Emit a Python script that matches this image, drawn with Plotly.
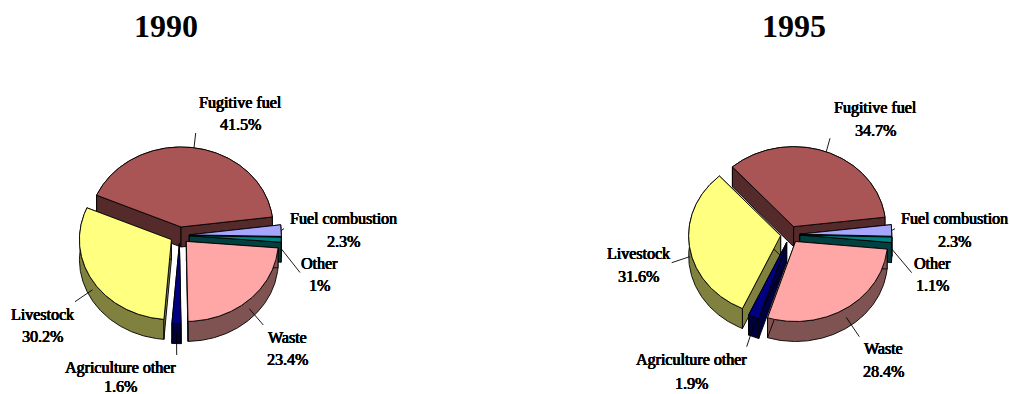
import numpy as np
import plotly.graph_objects as go

# Methane emission shares by source, percent
categories = ["Fugitive fuel", "Fuel combustion", "Other", "Waste", "Agriculture other", "Livestock"]
values_1990 = [41.5, 2.3, 1, 23.4, 1.6, 30.2]
values_1995 = [34.7, 2.3, 1.1, 28.4, 1.9, 31.6]

top_colors = ["#AA5555", "#A6A6FF", "#008080", "#FFA6A6", "#000080", "#FFFF80"]
side_colors = ["#552A2A", "#535380", "#004040", "#805353", "#000040", "#80803F"]

# Projection of the tilted discs
RX, RY, DEPTH, EXPLODE = 92.0, 80.0, 20.0, 0.105
SERIF = "Liberation Serif"
TEXT_SHADOW = "0.5px 0 0 #000, -0.35px 0 0 #000, 0 0.3px 0 #000"

# Paint order: back of the disc first
PAINT_ORDER = [0, 1, 2, 5, 4, 3]

# Label centres, one (x, first line y, second line y) per category
labels_1990 = [(240.5, 102.5, 124), (343, 218.5, 241.5), (319.5, 263, 285.5), (287, 337.5, 359), (120.5, 367.5, 386), (42.5, 314, 336.5)]
labels_1995 = [(875, 107.5, 130), (954, 218.5, 241.5), (932, 263, 285.5), (883, 348.5, 371.5), (691, 360, 383), (638.5, 253.5, 276)]
# Where each leader line meets its label
leader_ends_1990 = [(195.7, 133), (284, 228.5), (300, 272.5), (263.3, 325), (176.7, 355), (75, 301.7)]
leader_ends_1995 = [(830, 138.3), (895, 228.7), (911.7, 272.7), (859.3, 336.7), (746.7, 346.7), (671.7, 262.7)]

fig = go.Figure()


def polygon(x, y, fill, width=0.9):
    fig.add_trace(go.Scatter(
        x=x, y=y, mode="lines", fill="toself", fillcolor=fill,
        line=dict(color="#000000", width=width), hoverinfo="skip", showlegend=False,
    ))


def draw_pie(values, start_deg, cx, cy, label_pos, leader_ends):
    # Slices run clockwise from the first category's leading edge
    spans = [v / sum(values) * 360 for v in values]
    edges = start_deg - np.concatenate(([0], np.cumsum(spans)))
    for i in PAINT_ORDER:
        a0, a1 = edges[i], edges[i + 1]
        mid = np.radians((a0 + a1) / 2)
        ax = cx + np.cos(mid) * RX * EXPLODE
        ay = cy - np.sin(mid) * RY * EXPLODE
        t = np.radians(np.linspace(a0, a1, max(int(a0 - a1) * 2, 4)))
        ex = ax + RX * np.cos(t)
        ey = ay - RY * np.sin(t)
        # Outer wall
        polygon(np.r_[ex, ex[::-1], ex[0]], np.r_[ey, ey[::-1] + DEPTH, ey[0]], side_colors[i])
        # Cut faces
        for px, py in ((ex[0], ey[0]), (ex[-1], ey[-1])):
            polygon([ax, px, px, ax, ax], [ay, py, py + DEPTH, ay + DEPTH, ay], side_colors[i])
        # Top surface
        polygon(np.r_[ax, ex, ax], np.r_[ay, ey, ay], top_colors[i])

    for i, name in enumerate(categories):
        a0, a1 = edges[i], edges[i + 1]
        mid = np.radians((a0 + a1) / 2)
        ax = cx + np.cos(mid) * RX * EXPLODE
        ay = cy - np.sin(mid) * RY * EXPLODE
        sx = ax + RX * np.cos(mid)
        sy = ay - RY * np.sin(mid) + (DEPTH * 0.45 if np.sin(mid) < 0 else 0)
        ex, ey = leader_ends[i]
        fig.add_trace(go.Scatter(
            x=[sx, ex], y=[sy, ey], mode="lines",
            line=dict(color="#000000", width=0.9), hoverinfo="skip", showlegend=False,
        ))
        lx, y1, y2 = label_pos[i]
        for text, ly in ((name, y1), (f"{values[i]:g}%", y2)):
            fig.add_annotation(
                x=lx, y=ly, text=text, showarrow=False, xanchor="center", yanchor="middle",
                font=dict(family=SERIF, size=16, color="#000000", shadow=TEXT_SHADOW),
            )


draw_pie(values_1990, 156.6, 179.7, 235.3, labels_1990, leader_ends_1990)
draw_pie(values_1995, 131.7, 790.2, 234.5, labels_1995, leader_ends_1995)

for title, x in (("1990", 165.5), ("1995", 793.5)):
    fig.add_annotation(
        x=x, y=26, text=f"<b>{title}</b>", showarrow=False, xanchor="center", yanchor="middle",
        font=dict(family=SERIF, size=32, color="#000000"),
    )

fig.update_layout(
    width=1009, height=394, margin=dict(l=0, r=0, t=0, b=0),
    paper_bgcolor="#FFFFFF", plot_bgcolor="#FFFFFF", showlegend=False,
    xaxis=dict(range=[0, 1009], visible=False, fixedrange=True),
    yaxis=dict(range=[394, 0], visible=False, fixedrange=True),
)
fig.write_html("out.html", config=dict(displayModeBar=False))
